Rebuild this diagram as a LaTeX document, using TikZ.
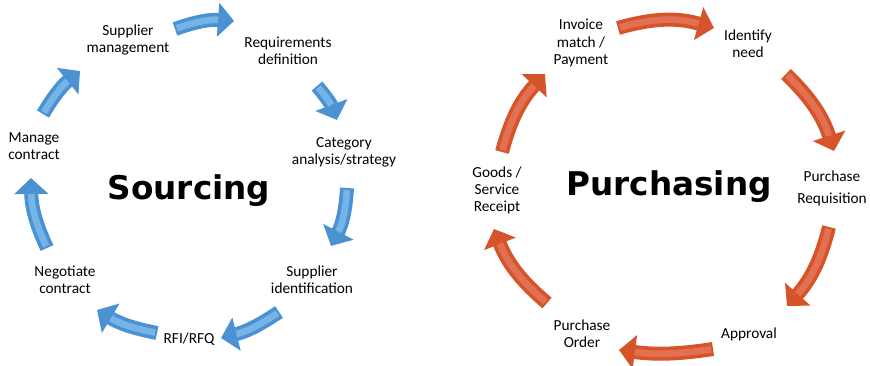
\documentclass[tikz,border=0pt]{standalone}
\usepackage{fontspec}
\setmainfont{Carlito}
\newfontfamily\titlefont{DejaVu Sans}
\usetikzlibrary{arrows.meta}

\definecolor{srcblue}{RGB}{74,146,210}
\definecolor{srcbluelt}{RGB}{132,192,238}
\definecolor{purorange}{RGB}{214,84,42}
\definecolor{purorangelt}{RGB}{232,122,96}

\tikzset{
  stage/.style={font=\fontsize{11.5}{12.8}\selectfont, align=center, inner sep=0pt},
  cycletitle/.style={font=\titlefont\bfseries\fontsize{24.5}{28}\selectfont, inner sep=0pt, anchor=base},
  blockarrow/.style={line width=10.5pt, -{Triangle[width=25pt,length=12pt]}},
  blockshine/.style={line width=5pt, opacity=0.75, shorten >=12pt, shorten <=1.5pt}
}

% curved block arrow: colour, light colour, from, to, bend
\newcommand{\cyclearrow}[5]{%
  \draw [blockarrow, #1] (#3) to[bend left=#5] (#4);
  \draw [blockshine, #2] (#3) to[bend left=#5] (#4);
}

\begin{document}
\begin{tikzpicture}[x=0.75pt,y=0.75pt]
\useasboundingbox (0,0) rectangle (870,-365);

% sourcing cycle
\node [cycletitle] (src) at (189,-199) {Sourcing};
\node [stage] (sm) at (128,-40) {Supplier\\management};
\node [stage] (rd) at (288,-51) {Requirements\\definition};
\node [stage] (ca) at (344,-152) {Category\\analysis/strategy};
\node [stage] (si) at (312,-280) {Supplier\\identification};
\node [stage] (rfi) at (189,-339) {RFI/RFQ};
\node [stage] (nc) at (65,-280) {Negotiate\\contract};
\node [stage] (mc) at (34,-146) {Manage\\contract};

\coordinate (sm-a) at (175,-29);  \coordinate (rd-b) at (234,-21);
\coordinate (rd-a) at (317,-86);  \coordinate (ca-b) at (337,-120);
\coordinate (ca-a) at (347,-188); \coordinate (si-b) at (331,-246);
\coordinate (si-a) at (279,-312); \coordinate (rfi-b) at (221,-338);
\coordinate (rfi-a) at (157,-333); \coordinate (nc-b) at (97,-310);
\coordinate (nc-a) at (47,-248);  \coordinate (mc-b) at (31,-178);
\coordinate (mc-a) at (43,-114);  \coordinate (sm-b) at (80,-71);

\cyclearrow{srcblue}{srcbluelt}{sm-a}{rd-b}{12}
\cyclearrow{srcblue}{srcbluelt}{rd-a}{ca-b}{10}
\cyclearrow{srcblue}{srcbluelt}{ca-a}{si-b}{12}
\cyclearrow{srcblue}{srcbluelt}{si-a}{rfi-b}{10}
\cyclearrow{srcblue}{srcbluelt}{rfi-a}{nc-b}{10}
\cyclearrow{srcblue}{srcbluelt}{nc-a}{mc-b}{12}
\cyclearrow{srcblue}{srcbluelt}{mc-a}{sm-b}{10}

% purchasing cycle
\node [cycletitle] (pur) at (669,-195) {Purchasing};
\node [stage] (im) at (581,-43) {Invoice\\match /\\Payment};
\node [stage] (in) at (748,-44) {Identify\\need};
\node [stage, font=\fontsize{11.5}{16.5}\selectfont] (pr) at (832,-188) {Purchase\\Requisition};
\node [stage] (ap) at (749,-334) {Approval};
\node [stage] (po) at (582,-334) {Purchase\\Order};
\node [stage] (gr) at (497,-190) {Goods /\\Service\\Receipt};

\coordinate (im-a) at (618,-28);  \coordinate (in-b) at (714,-28);
\coordinate (in-a) at (786,-74);  \coordinate (pr-b) at (834,-151);
\coordinate (pr-a) at (829,-227); \coordinate (ap-b) at (787,-306);
\coordinate (ap-a) at (713,-349); \coordinate (po-b) at (619,-350);
\coordinate (po-a) at (547,-303); \coordinate (gr-b) at (494,-229);
\coordinate (gr-a) at (502,-152); \coordinate (im-b) at (545,-74);

\cyclearrow{purorange}{purorangelt}{im-a}{in-b}{16}
\cyclearrow{purorange}{purorangelt}{in-a}{pr-b}{14}
\cyclearrow{purorange}{purorangelt}{pr-a}{ap-b}{14}
\cyclearrow{purorange}{purorangelt}{ap-a}{po-b}{8}
\cyclearrow{purorange}{purorangelt}{po-a}{gr-b}{14}
\cyclearrow{purorange}{purorangelt}{gr-a}{im-b}{14}
\end{tikzpicture}
\end{document}
